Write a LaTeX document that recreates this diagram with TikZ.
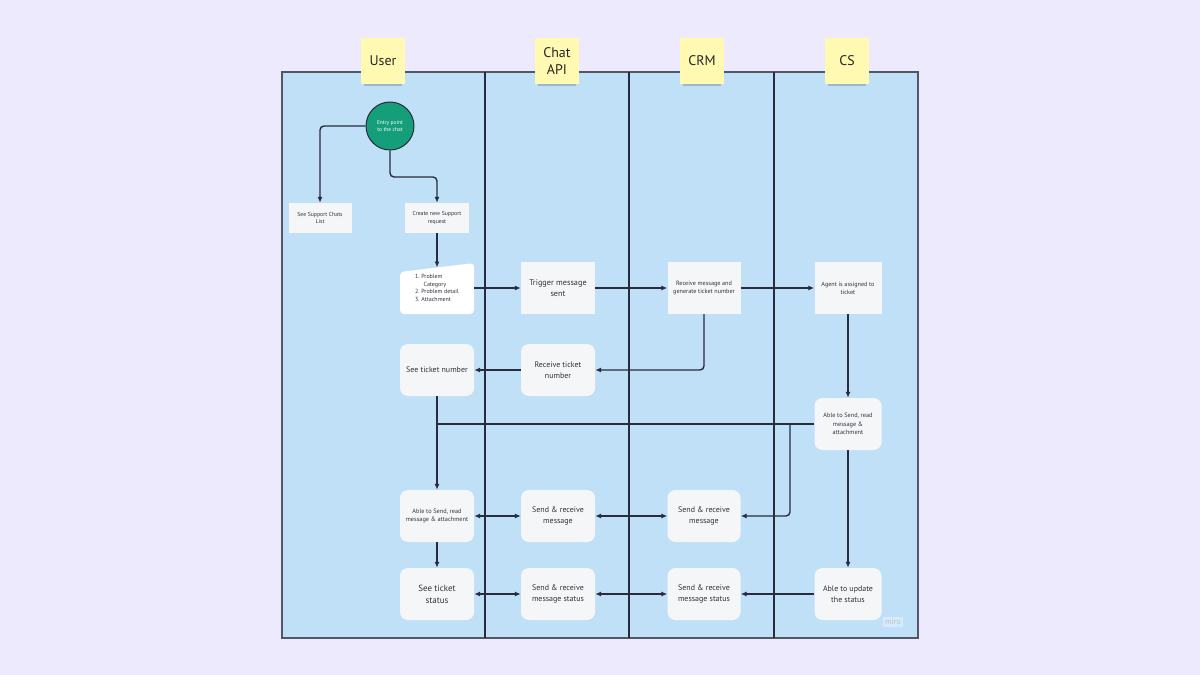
\documentclass[tikz,border=0pt]{standalone}
\usepackage{fontspec}
\setmainfont{PT Sans}
\usetikzlibrary{arrows.meta,calc}
\definecolor{bgc}{RGB}{236,234,252}
\definecolor{poolc}{RGB}{192,224,248}
\definecolor{linec}{RGB}{40,44,60}
\definecolor{boxc}{RGB}{245,246,248}
\definecolor{stickc}{RGB}{255,249,177}
\definecolor{tealc}{RGB}{20,158,122}
\definecolor{txtc}{RGB}{50,50,60}
\begin{document}
\begin{tikzpicture}[x=1bp,y=-1bp,
  conn/.style={draw=linec, line width=1.4bp, rounded corners=4bp},
  arr/.style={conn, -{Latex[length=6bp,width=5bp]}},
  darr/.style={conn, {Latex[length=6bp,width=5bp]}-{Latex[length=6bp,width=5bp]}},
  boxn/.style={fill=boxc, minimum width=74bp, minimum height=52bp, align=center, inner sep=2bp, text=txtc, font=\fontsize{6.2}{8}\selectfont},
  rboxn/.style={boxn, rounded corners=8bp, font=\fontsize{8}{10.5}\selectfont},
  sticky/.style={fill=stickc, minimum width=44bp, minimum height=46bp, align=center, inner sep=1bp, font=\fontsize{14}{17}\selectfont, text=black!85},
  shad/.style={fill=black, opacity=0.18}
]
\useasboundingbox (0,0) rectangle (1200,675);
\fill[bgc] (0,0) rectangle (1200,675);
% pool
\fill[poolc] (282,72) rectangle (918,638);
\draw[linec!80, line width=1.2bp] (282,72) rectangle (918,638);
\foreach \xx in {485,629,774} \draw[linec, line width=1.2bp] (\xx,72) -- (\xx,638);
% sticky notes
\foreach \cx in {383,557,702,847} \fill[shad] (\cx-19,83) rectangle (\cx+19,86);
\node[sticky] (hUser) at (383,61) {User};
\node[sticky] (hChat) at (557,61) {Chat\\API};
\node[sticky] (hCRM) at (702,61) {CRM};
\node[sticky] (hCS) at (847,61) {CS};
% entry
\node[circle, fill=tealc, draw=linec, line width=1bp, minimum size=48bp, inner sep=0pt, align=center, text=white, font=\fontsize{5.5}{7}\selectfont] (entry) at (390,126) {Entry point\\to the chat};
\node[boxn, minimum width=63bp, minimum height=30bp, font=\fontsize{5.8}{7.5}\selectfont] (seechats) at (320,218) {See Support Chats\\List};
\node[boxn, minimum width=64bp, minimum height=30bp, font=\fontsize{5.8}{7.5}\selectfont] (create) at (437,218) {Create new Support\\request};
% doc shape
\fill[white, rounded corners=4bp] (400,272) -- (474,263) -- (474,314) -- (400,314) -- cycle;
\node[minimum width=74bp, minimum height=52bp, inner sep=0pt, align=left, text=txtc, font=\fontsize{6}{7.6}\selectfont] (doc) at (437,288) {1.\ Problem\\\hspace*{8.5pt}Category\\2.\ Problem detail\\3.\ Attachment};
\coordinate (doctop) at (437,267.5);
\node[boxn, font=\fontsize{8.3}{10.5}\selectfont] (trigger) at (558,288) {Trigger message\\sent};
\node[boxn, minimum width=73bp] (recv) at (704,288) {Receive message and\\generate ticket number};
\node[boxn, minimum width=67bp] (agent) at (848,288) {Agent is assigned to\\ticket};
\node[rboxn] (rticket) at (558,370) {Receive ticket\\number};
\node[rboxn] (sticket) at (437,370) {See ticket number};
\node[rboxn, minimum width=67bp, font=\fontsize{6.3}{8.3}\selectfont] (csable) at (848,424) {Able to Send, read\\message \&\\attachment};
\node[rboxn, font=\fontsize{6.3}{8.3}\selectfont] (uable) at (437,516) {Able to Send, read\\message \& attachment};
\node[rboxn] (chatsr) at (558,516) {Send \& receive\\message};
\node[rboxn, minimum width=73bp] (crmsr) at (704,516) {Send \& receive\\message};
\node[rboxn, font=\fontsize{9}{12}\selectfont] (ustatus) at (437,594) {See ticket\\status};
\node[rboxn] (chatst) at (558,594) {Send \& receive\\message status};
\node[rboxn, minimum width=73bp] (crmst) at (704,594) {Send \& receive\\message status};
\node[rboxn, minimum width=67bp] (csupd) at (848,594) {Able to update\\the status};
\node[fill=white, fill opacity=0.35, text opacity=1, text=black!25, font=\fontsize{8}{9}\selectfont, inner sep=2bp] (miro) at (893,622) {miro};
% connectors
\draw[arr] (entry.west) -| (seechats.north);
\coordinate (c1) at (390,177);
\draw[arr] (entry.south) -- (c1) -| (create.north);
\draw[arr] (create.south) -- (doctop);
\draw[arr] (doc.east) -- (trigger.west);
\draw[arr] (trigger.east) -- (recv.west);
\draw[arr] (recv.east) -- (agent.west);
\draw[arr] (recv.south) |- (rticket.east);
\draw[arr] (rticket.west) -- (sticket.east);
\draw[arr] (agent.south) -- (csable.north);
\draw[arr] (sticket.south) -- (uable.north);
\coordinate (j1) at (sticket.south |- csable.west);
\draw[conn] (csable.west) -- (j1);
\coordinate (j2) at (790,424);
\draw[arr] (j2) |- (crmsr.east);
\draw[darr] (uable.east) -- (chatsr.west);
\draw[darr] (chatsr.east) -- (crmsr.west);
\draw[arr] (uable.south) -- (ustatus.north);
\draw[arr] (csable.south) -- (csupd.north);
\draw[arr] (csupd.west) -- (crmst.east);
\draw[darr] (crmst.west) -- (chatst.east);
\draw[darr] (chatst.west) -- (ustatus.east);
\end{tikzpicture}
\end{document}
